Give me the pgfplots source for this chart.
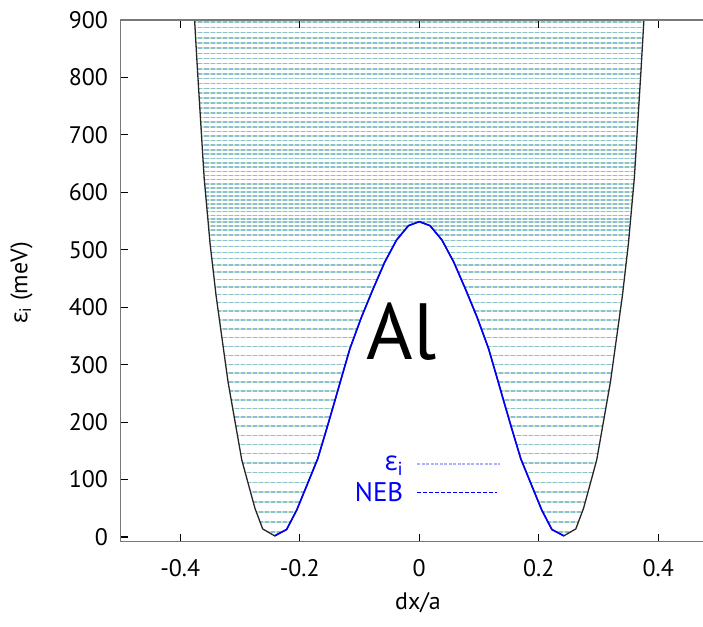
\documentclass[border=0pt]{standalone}
\usepackage{pgfplots}
\pgfplotsset{compat=1.18}
\usepackage{fontspec}
\setmainfont{PT Sans}
\newfontfamily\grk{Open Sans}
\definecolor{lvlblue}{RGB}{140,190,215}
\definecolor{lvlgreen}{RGB}{205,238,195}
\definecolor{epsleg}{RGB}{175,175,255}
\definecolor{axgray}{RGB}{120,120,120}
\begin{document}
\begin{tikzpicture}
\begin{axis}[
  at={(0,0)}, anchor=south west,
  scale only axis, width=582.5bp, height=521.7bp,
  xmin=-0.5, xmax=0.4749, ymin=-8.2, ymax=900,
  axis x line=box, axis y line=left,
  axis line style={-, draw=axgray, line width=1.4bp},
  xtick pos=both, ytick pos=left, xticklabel pos=bottom,
  tick align=inside, major tick length=8bp,
  every tick/.style={black, line width=1.1bp},
  xtick={-0.4,-0.2,0,0.2,0.4},
  xticklabels={-0.4,-0.2,0,0.2,0.4},
  ytick={0,100,...,900},
  /pgf/number format/assume math mode=true,
  tick label style={font=\fontsize{24}{28}\selectfont},
  yticklabel style={xshift=-9bp},
  xticklabel style={yshift=-14bp},
  xlabel={dx/a}, ylabel={{\grk ε}\textsubscript{i} (meV)},
  label style={font=\fontsize{24}{28}\selectfont},
  x label style={at={(axis description cs:0.5107,-0.1175)}, anchor=center},
  y label style={at={(axis description cs:-0.17,0.496)}, anchor=center, rotate=0},
  axis on top,
  clip=true,
  legend plot pos=right,
  legend cell align=right,
  legend style={draw=none, fill=none, font=\fontsize{27}{30}\selectfont, text=blue,
    at={(axis cs:0.137,145)}, anchor=north east, inner sep=0pt,
    row sep=6bp},
]
% energy levels
\pgfplotsinvokeforeach{9,26.5,44,61,78,95,112,128.5,145,161,177,193,208.5,223.5,239,254,269.5,285,300.5,316,331.5,347,362.5,378,393,408,422,435.5,448.5,461,473,484.5,495.5,506,516,525.5,534,541.5,548,554,560,566.5,573,580,587,594,601,608,615,622,629,636.5,644,651.5,659,666.5,674,682,690,698,706,714,722,730,738.5,747,755.5,764,772.5,781,789.5,798,806.5,815,824,833,842,851,860,869,878,887,896}{
  \addplot[lvlgreen, line width=1.6bp, forget plot] coordinates {(-0.5,#1) (0.5,#1)};
  \addplot[lvlblue, line width=1.6bp, dash pattern=on 4bp off 2bp, forget plot] coordinates {(-0.5,#1) (0.5,#1)};
}
% white out region below the potential
\addplot[fill=white, draw=none, forget plot] coordinates {
(-0.5,1070) (-0.385,1070) (-0.376,900) (-0.371,810) (-0.366,726) (-0.36,625) (-0.35,510) (-0.34,420) (-0.32,270) (-0.297,134) (-0.275,50) (-0.262,14) (-0.242,2)
(-0.222,13) (-0.205,47) (-0.19,85) (-0.17,136) (-0.155,188) (-0.141,238) (-0.128,285) (-0.116,328) (-0.097,382) (-0.078,430) (-0.058,478) (-0.038,517) (-0.018,542) (0,549)
(0.018,542) (0.038,517) (0.058,478) (0.078,430) (0.097,382) (0.116,328) (0.128,285) (0.141,238) (0.155,188) (0.17,136) (0.19,85) (0.205,47) (0.222,13)
(0.242,2) (0.262,14) (0.275,50) (0.297,134) (0.32,270) (0.34,420) (0.35,510) (0.36,625) (0.366,726) (0.371,810) (0.376,900) (0.385,1070) (0.5,1070)
(0.5,-50) (-0.5,-50)
} -- cycle;
% full potential (black)
\addplot[black!85, line width=1.3bp, forget plot] coordinates {
(-0.385,1070) (-0.376,900) (-0.371,810) (-0.366,726) (-0.36,625) (-0.35,510) (-0.34,420) (-0.32,270) (-0.297,134) (-0.275,50) (-0.262,14) (-0.242,2)
(-0.222,13) (-0.205,47) (-0.19,85) (-0.17,136) (-0.155,188) (-0.141,238) (-0.128,285) (-0.116,328) (-0.097,382) (-0.078,430) (-0.058,478) (-0.038,517) (-0.018,542) (0,549)
(0.018,542) (0.038,517) (0.058,478) (0.078,430) (0.097,382) (0.116,328) (0.128,285) (0.141,238) (0.155,188) (0.17,136) (0.19,85) (0.205,47) (0.222,13)
(0.242,2) (0.262,14) (0.275,50) (0.297,134) (0.32,270) (0.34,420) (0.35,510) (0.36,625) (0.366,726) (0.371,810) (0.376,900) (0.385,1070)
};
% NEB (blue)
\addplot[blue, line width=1.6bp, forget plot] coordinates {
(-0.242,2) (-0.222,13) (-0.205,47) (-0.19,85) (-0.17,136) (-0.155,188) (-0.141,238) (-0.128,285) (-0.116,328) (-0.097,382) (-0.078,430) (-0.058,478) (-0.038,517) (-0.018,542) (0,549)
(0.018,542) (0.038,517) (0.058,478) (0.078,430) (0.097,382) (0.116,328) (0.128,285) (0.141,238) (0.155,188) (0.17,136) (0.19,85) (0.205,47) (0.222,13) (0.242,2)
};
\addlegendimage{legend image code/.code={\path (0bp,0bp); \draw[epsleg, line width=1.1bp, dash pattern=on 3bp off 1.5bp] (12bp,0bp) -- (95bp,0bp);}}
\addlegendentry{{\grk ε}\textsubscript{i}}
\addlegendimage{legend image code/.code={\path (0bp,0bp); \draw[blue, line width=1.4bp, dash pattern=on 4bp off 2bp] (12bp,0bp) -- (92bp,0bp);}}
\addlegendentry{NEB}
\node[font=\fontsize{80}{84}\selectfont, anchor=center] at (axis cs:-0.029,358) {Al};
\end{axis}
\pgfresetboundingbox
\useasboundingbox (-120.5bp,-85.3bp) rectangle (582.5bp,541.7bp);
\end{tikzpicture}
\end{document}
